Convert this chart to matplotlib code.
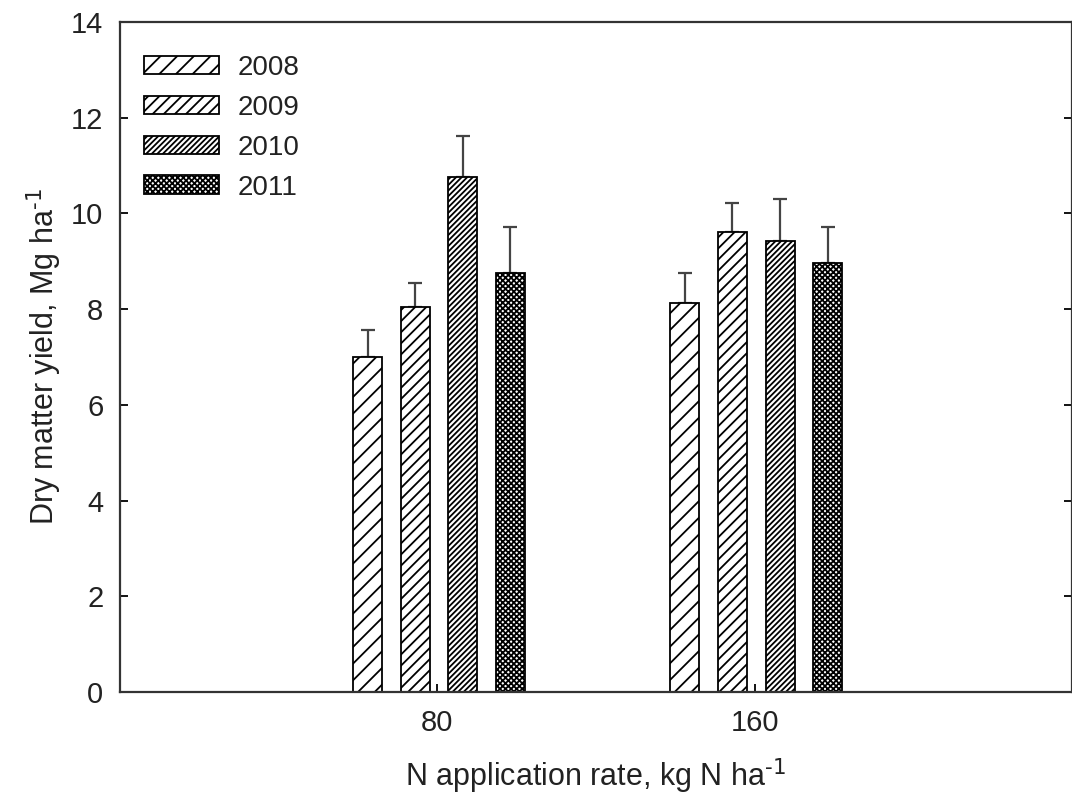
import numpy as np
import matplotlib
matplotlib.use("Agg")
import matplotlib.pyplot as plt

plt.rcParams['font.family'] = ['Liberation Sans', 'DejaVu Sans']
plt.rcParams['hatch.linewidth'] = 1.3
plt.rcParams['mathtext.default'] = 'regular'

## data
rates = [80, 160]
years = ['2008', '2009', '2010', '2011']
yield_2008 = [7.00, 8.13]
yield_2009 = [8.04, 9.61]
yield_2010 = [10.76, 9.42]
yield_2011 = [8.75, 8.96]
err_2008 = [0.56, 0.62]
err_2009 = [0.51, 0.61]
err_2010 = [0.86, 0.88]
err_2011 = [0.97, 0.76]

values = [yield_2008, yield_2009, yield_2010, yield_2011]
errors = [err_2008, err_2009, err_2010, err_2011]
hatches = ['//', '///', '//////', 'xxxxxx']

fig = plt.figure(figsize=(10.72, 7.96), dpi=100)
ax = fig.add_axes([120/1072, 1 - 692/796, 952/1072, 670/796])

width = 7.3
step = 12.0
for i, (vals, errs, h) in enumerate(zip(values, errors, hatches)):
    x = np.array(rates) + (i - 1.5) * step + 0.4
    ax.bar(x, vals, width, color='white', edgecolor='black', linewidth=1.3,
           hatch=h, label=years[i], zorder=2)
    ax.errorbar(x, vals, yerr=[np.zeros(len(errs)), errs], fmt='none',
                ecolor='#444444', elinewidth=1.6, capsize=5, capthick=1.6, zorder=1)

ax.set_xlim(0, 240)
ax.set_ylim(0, 14)
ax.set_xticks(rates)
ax.set_yticks(np.arange(0, 15, 2))
ax.tick_params(direction='in', length=6, width=1.3, labelsize=21, pad=12,
               right=True, top=False, labelcolor='#222222')
for s in ax.spines.values():
    s.set_linewidth(1.6)
    s.set_color('#333333')

ax.set_xlabel(r'N application rate, kg N ha$^{\text{-1}}$', fontsize=22,
              labelpad=14, color='#222222')
ax.set_ylabel(r'Dry matter yield, Mg ha$^{\text{-1}}$', fontsize=22,
              labelpad=5, color='#222222')

ax.legend(loc='upper left', frameon=False, fontsize=20, handlelength=2.7,
          handleheight=0.65, labelspacing=0.5, handletextpad=0.65,
          bbox_to_anchor=(0.005, 0.98), borderaxespad=0.3,
          labelcolor='#222222')

fig.savefig('out.png', dpi=100)
